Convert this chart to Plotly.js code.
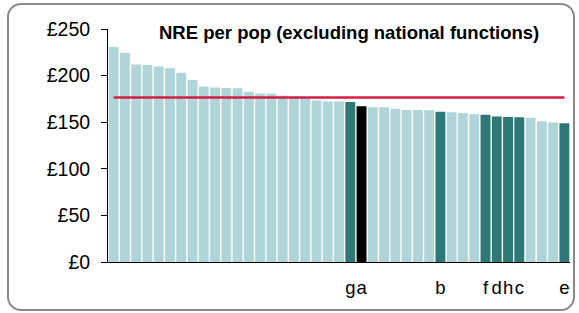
<!DOCTYPE html>
<html>
<head>
<meta charset="utf-8">
<script src="https://cdn.plot.ly/plotly-3.0.1.min.js"></script>
<style>
  html, body { margin: 0; padding: 0; background: #fff; }
  #wrap { position: relative; width: 579px; height: 313px; overflow: hidden; }
  #frame { position: absolute; left: 7px; top: 3px; width: 564px; height: 304px;
           border: 2px solid #8a8a8a; border-radius: 14px; box-sizing: content-box; }
  #chart { position: absolute; left: 0; top: 0; width: 579px; height: 313px; }
</style>
</head>
<body>
<div id="wrap">
  <div id="frame"></div>
  <div id="chart"></div>
</div>
<script>
// Data
const values = [230.8, 224.4, 211.9, 211.5, 209.8, 208.0, 203.0, 195.2, 188.4, 187.3,
                186.6, 186.3, 182.7, 180.9, 180.6, 178.4, 177.5, 176.2, 173.4, 172.3,
                172.3, 171.7, 167.0, 166.0, 166.0, 164.5, 163.1, 163.1, 162.7, 161.3,
                160.6, 159.9, 158.5, 158.1, 156.0, 155.6, 155.3, 154.9, 151.0, 149.6,
                148.8];
const labels = ["", "", "", "", "", "", "", "", "", "",
                "", "", "", "", "", "", "", "", "", "",
                "", "g", "a", "", "", "", "", "", "", "b",
                "", "", "", "f", "d", "h", "c", "", "", "",
                "e"];
// highlight groups: 0 = other, 1 = named, 2 = selected
const group = [0,0,0,0,0,0,0,0,0,0,
               0,0,0,0,0,0,0,0,0,0,
               0,1,2,0,0,0,0,0,0,1,
               0,0,0,1,1,1,1,0,0,0,
               1];
const averageValue = 176.5;
const yTickVals = [0, 50, 100, 150, 200, 250];
const yTickText = ["£0", "£50", "£100", "£150", "£200", "£250"];
const titleText = "NRE per pop (excluding national functions)";

const palette = ["#afd5d8", "#2f7878", "#000000"];
const xs = values.map((v, i) => i + 1);
const colors = group.map(g => palette[g]);

const tickVals = [], tickText = [];
labels.forEach((l, i) => { if (l) { tickVals.push(i + 1); tickText.push(l); } });

const FONT = "Liberation Sans, Arial, sans-serif";

const traces = [
  {
    type: "bar", x: xs, y: values,
    marker: { color: colors, line: { width: 0 } },
    hoverinfo: "none"
  },
  {
    type: "scatter", mode: "lines",
    x: xs, y: xs.map(() => averageValue),
    line: { color: "#d41f45", width: 2.5 },
    hoverinfo: "none"
  }
];

const layout = {
  width: 579, height: 313,
  margin: { l: 108, r: 9, t: 29, b: 51 },
  paper_bgcolor: "rgba(0,0,0,0)",
  plot_bgcolor: "rgba(0,0,0,0)",
  showlegend: false,
  bargap: 0.12,
  font: { family: FONT, size: 19, color: "#000" },
  xaxis: {
    range: [0.5, 41.5],
    tickmode: "array", tickvals: tickVals, ticktext: tickText,
    tickangle: 0,
    ticks: "", showgrid: false, zeroline: false,
    showline: true, linecolor: "#000", linewidth: 1,
    ticklabelstandoff: 9,
    tickfont: { size: 18.5, family: FONT, color: "#000" }
  },
  yaxis: {
    range: [0, 250],
    tickmode: "array", tickvals: yTickVals, ticktext: yTickText,
    ticks: "outside", ticklen: 6, tickcolor: "#000", tickwidth: 1,
    ticklabelstandoff: 7,
    showgrid: false, zeroline: false,
    showline: true, linecolor: "#000", linewidth: 1,
    tickfont: { size: 19.5, family: FONT, color: "#000" }
  },
  annotations: [{
    text: "<b>" + titleText + "</b>",
    xref: "paper", yref: "paper",
    x: 0.5227, y: 1.0, xanchor: "center", yanchor: "middle",
    yshift: -3,
    showarrow: false,
    font: { size: 18.5, family: FONT, color: "#000" }
  }]
};

Plotly.newPlot("chart", traces, layout, { staticPlot: true, displayModeBar: false });
</script>
</body>
</html>
